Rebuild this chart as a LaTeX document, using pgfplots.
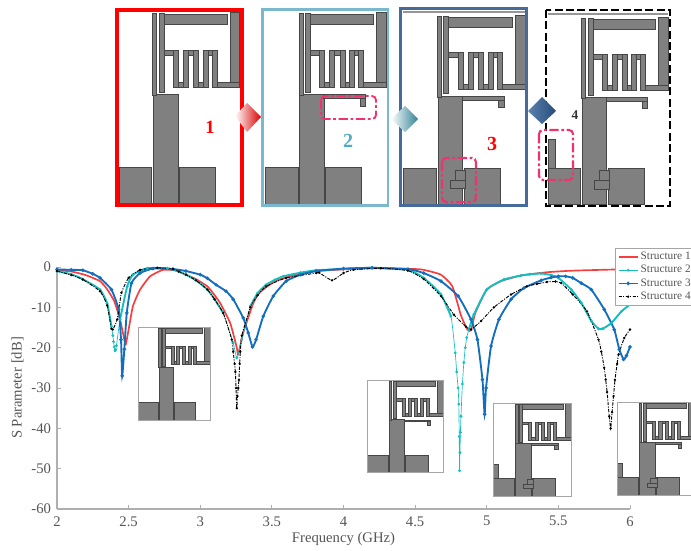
\documentclass[border=0pt]{standalone}
\usepackage{fontspec}
\setmainfont{Liberation Serif}
\usepackage{pgfplots}
\pgfplotsset{compat=1.18}
\usetikzlibrary{shadings}
\definecolor{antgray}{RGB}{128,128,128}
\definecolor{antline}{RGB}{70,70,70}
\definecolor{pinkd}{RGB}{240,50,110}
\definecolor{txtgray}{RGB}{85,85,85}
\definecolor{axgray}{RGB}{175,175,175}
\definecolor{cred}{RGB}{250,60,60}
\definecolor{ccyan}{RGB}{20,190,190}
\definecolor{cblue}{RGB}{20,110,190}

\newcommand{\antenna}[5]{% x0,y0,w,h,level
  \pgfmathsetmacro{\ax}{#3/361*0.75}
  \pgfmathsetmacro{\ay}{#4/577*0.75}
  \begin{scope}[shift={(#1,#2)},x=\ax pt,y=-\ay pt,fill=antgray,draw=antline,line width=0.35pt]
    \filldraw (0,468) rectangle (98,577);
    \filldraw (181,468) rectangle (288,577);
    \filldraw (103,247) rectangle (176,577);
    \filldraw (101,5) rectangle (113,250);
    \filldraw (120,5) rectangle (135,240);
    \filldraw (135,7) rectangle (323,37);
    \filldraw (333,0) rectangle (361,227);
    \filldraw (135,115) rectangle (178,130);
    \filldraw (193,115) rectangle (238,130);
    \filldraw (251,115) rectangle (293,130);
    \filldraw (163,210) rectangle (208,227);
    \filldraw (223,210) rectangle (266,227);
    \filldraw (278,210) rectangle (361,227);
    \filldraw (163,115) rectangle (178,227);
    \filldraw (193,115) rectangle (208,227);
    \filldraw (223,115) rectangle (238,227);
    \filldraw (251,115) rectangle (266,227);
    \filldraw (278,115) rectangle (293,227);
    \ifnum#5>1
      \filldraw (175,248) rectangle (300,260);
      \filldraw (283,260) rectangle (300,283);
    \fi
    \ifnum#5>2
      \filldraw (155,473) rectangle (185,505);
      \filldraw (140,505) rectangle (185,530);
    \fi
    \ifnum#5>3
      \filldraw (0,377) rectangle (23,468);
    \fi
  \end{scope}
}

\pgfplotstableread{
x y
2 -0.8
2.1 -1.1
2.2 -2
2.3 -3.5
2.35 -5.5
2.4 -8.5
2.44 -13
2.47 -18
2.48 -19.2
2.5 -15.5
2.53 -9.7
2.58 -5.6
2.65 -2.3
2.74 -0.7
2.82 -0.8
2.85 -1.2
2.9 -1.9
2.97 -3
3.05 -4.8
3.09 -6.5
3.14 -9
3.21 -14
3.255 -20
3.265 -21.7
3.3 -16.3
3.37 -9
3.41 -6.5
3.46 -5
3.52 -3.6
3.58 -2.8
3.7 -1.6
3.81 -1
4 -0.6
4.2 -0.3
4.5 -0.5
4.56 -0.7
4.68 -1.9
4.76 -4.8
4.82 -12
4.865 -15.5
4.89 -15.7
4.92 -11.4
5 -5.6
5.1 -3.5
5.24 -2.1
5.42 -1.3
5.6 -0.9
5.91 -0.6
6 -0.55
}\sOne
\pgfplotstableread{
x y
2 -1
2.1 -1.8
2.18 -3
2.3 -5.6
2.35 -9
2.38 -14.7
2.39 -17
2.395 -18.5
2.4 -19.8
2.405 -20.8
2.41 -20.5
2.415 -19.5
2.44 -13
2.49 -4.8
2.53 -1.9
2.63 -0.3
2.77 -0.3
2.85 -1.1
2.9 -1.9
2.97 -3.3
3.05 -5.6
3.1 -8
3.16 -11.4
3.23 -18.8
3.255 -22.5
3.29 -18
3.35 -9.7
3.4 -6.5
3.46 -4.4
3.52 -3.2
3.58 -2.3
3.7 -1.4
3.81 -0.8
4 -0.5
4.2 -0.2
4.45 -0.7
4.56 -2.7
4.68 -6.8
4.75 -12.2
4.78 -21.3
4.79 -26
4.8 -30
4.805 -34
4.808 -42
4.81 -50.5
4.813 -46
4.816 -41
4.82 -37
4.83 -29
4.84 -23.7
4.85 -20
4.86 -17.5
4.875 -15.5
4.91 -11.8
5 -5.6
5.12 -3.1
5.24 -2.1
5.3 -1.8
5.38 -1.6
5.45 -2
5.5 -2.7
5.59 -5.6
5.66 -8.9
5.73 -13.4
5.78 -15.3
5.81 -15.3
5.87 -13.9
5.94 -11
6 -9.3
}\sTwo
\pgfplotstableread{
x y
2 -0.6
2.1 -0.7
2.18 -0.8
2.25 -1.7
2.3 -2.7
2.38 -5.6
2.43 -10.5
2.447 -18
2.455 -27
2.47 -20.4
2.487 -11.4
2.52 -4
2.58 -1.5
2.67 -0.4
2.81 -0.5
2.9 -1
3 -1.9
3.05 -2.8
3.11 -4.4
3.18 -6
3.23 -8
3.3 -12.6
3.335 -16.3
3.365 -19.8
3.39 -18
3.44 -12.2
3.51 -7.2
3.6 -3.5
3.7 -1.9
3.81 -1
4 -0.4
4.2 -0.2
4.45 -0.5
4.56 -1.5
4.68 -3.5
4.8 -7.2
4.89 -13
4.935 -18
4.97 -27.9
4.985 -36.5
4.995 -30
5.03 -19.6
5.085 -13
5.17 -8
5.26 -5.2
5.38 -3.3
5.45 -2.6
5.5 -2.3
5.55 -2.3
5.6 -2.7
5.66 -4
5.73 -5.6
5.82 -10.5
5.89 -15.5
5.925 -20.4
5.955 -22.9
5.975 -22
6 -19.8
}\sThree
\pgfplotstableread{
x y
2 -1
2.1 -2
2.18 -3.1
2.3 -6
2.35 -9.5
2.38 -15.3
2.39 -15.5
2.42 -13
2.45 -6.4
2.5 -2.7
2.58 -0.7
2.7 -0.2
2.81 -0.5
2.85 -1.1
2.9 -1.9
2.97 -3.3
3.05 -5.6
3.1 -8
3.16 -11.4
3.22 -18
3.23 -21
3.24 -24
3.245 -26
3.25 -30
3.255 -35
3.26 -32
3.265 -30
3.27 -28
3.275 -24
3.28 -21
3.29 -17
3.35 -10
3.4 -7
3.46 -4.8
3.6 -2.7
3.81 -1.5
3.83 -1.4
3.92 -3.3
4 -1.5
4.07 -0.7
4.26 -0.3
4.45 -0.9
4.56 -3
4.68 -7.2
4.77 -11.8
4.855 -14.8
4.89 -15.5
4.96 -13.4
5.05 -10
5.17 -6.8
5.28 -4.8
5.35 -4.2
5.42 -3.7
5.48 -3.6
5.52 -4
5.6 -6.8
5.7 -11
5.78 -18
5.8 -21
5.82 -25
5.83 -27.9
5.84 -31
5.855 -37
5.865 -40
5.875 -36
5.885 -32
5.895 -28
5.91 -24
5.92 -21.7
5.96 -17.6
6 -15.5
}\sFour

\begin{document}
\begin{tikzpicture}[x=0.75pt,y=-0.75pt]
\useasboundingbox (0,0) rectangle (691,550);

\antenna{119}{12}{120.5}{192}{1}
\draw[red,line width=3pt] (117,10) rectangle (242,205);
\node[text=red,font=\bfseries\fontsize{14}{14}\selectfont] at (210,127) {1};

\antenna{265}{12}{121}{192}{2}
\draw[color={rgb,255:red,122;green,184;blue,208},line width=2pt] (262.5,9.5) rectangle (388,205.5);
\node[text={rgb,255:red,80;green,170;blue,195},font=\bfseries\fontsize{15}{15}\selectfont] at (348,141) {2};
\draw[pinkd,line width=1.4pt,rounded corners=3pt,dash pattern=on 7pt off 2pt on 2pt off 2pt] (321,96) rectangle (376,119);

\draw[color={rgb,255:red,150;green,150;blue,150},line width=1pt] (403,12) -- (525,12);
\antenna{403}{15}{122}{189}{3}
\draw[color={rgb,255:red,70;green,106;blue,154},line width=2pt] (400.5,8.5) rectangle (526.5,205.5);
\node[text=red,font=\bfseries\fontsize{15}{15}\selectfont] at (492,144) {3};
\draw[pinkd,line width=1.6pt,rounded corners=3pt,dash pattern=on 7pt off 2pt on 2pt off 2pt] (442,158) rectangle (476,202);

\draw[color={rgb,255:red,150;green,150;blue,150},line width=1pt] (548,14) -- (668,14);
\antenna{548}{17}{120}{187}{4}
\draw[black,line width=2pt,dash pattern=on 6pt off 2.5pt] (546,10) rectangle (670,206);
\node[text=black!80,font=\bfseries\fontsize{10}{10}\selectfont] at (575,115) {4};
\draw[pinkd,line width=1.6pt,rounded corners=3pt,dash pattern=on 7pt off 2pt on 2pt off 2pt] (539,130) rectangle (573,180);

\shade[left color=white,right color=red!85!black] (235,116) -- (247,103) -- (261,117) -- (247,132) -- cycle;
\shade[left color=white,right color={rgb,255:red,50;green,130;blue,150}] (391,119) -- (405,106) -- (418,119) -- (405,132) -- cycle;
\shade[left color={rgb,255:red,90;green,130;blue,175},right color={rgb,255:red,40;green,75;blue,120}] (528,111) -- (542,97) -- (556,111) -- (542,124) -- cycle;

\begin{axis}[
  at={(42.75pt,-381.75pt)},anchor=south west,
  scale only axis,width=429.75pt,height=181.5pt,
  xmin=2,xmax=6,ymin=-60,ymax=0,
  axis lines=left,
  axis line style={-,axgray,line width=0.9pt},
  tick style={axgray,line width=0.7pt},
  tick align=inside,
  major tick length=3pt,
  xtick={2,2.5,3,3.5,4,4.5,5,5.5,6},
  xticklabels={2,2.5,3,3.5,4,4.5,5,5.5,6},
  ytick={-60,-50,-40,-30,-20,-10,0},
  yticklabels={-60,-50,-40,-30,-20,-10,0},
  ticklabel style={text=txtgray,font=\fontsize{11}{11}\selectfont},
  xticklabel style={yshift=-2pt},
  yticklabel style={xshift=-1pt},
  xlabel={Frequency (GHz)},
  ylabel={S Parameter [dB]},
  label style={text=txtgray,font=\fontsize{11}{11}\selectfont},
  xlabel style={yshift=2pt},
  ylabel style={yshift=-1pt},
  clip=false,
  legend style={at={(0.974,1.079)},anchor=north west,draw=gray!70,fill=white,
    line width=0.7pt,font=\fontsize{8.5}{8.5}\selectfont,text=txtgray,
    inner xsep=1.5pt,inner ysep=1.5pt,row sep=0pt,
    nodes={inner sep=1.4pt}},
  legend cell align=left,
  legend image post style={xscale=0.85},
]
\addplot[cred,line width=1.25pt,smooth,tension=0.3] table[x=x,y=y] {\sOne};
\addlegendentry{Structure 1}
\addplot[ccyan,line width=0.5pt,smooth,tension=0.3,mark=*,mark size=0.8pt,mark options={solid,fill=ccyan,draw=ccyan}] table[x=x,y=y] {\sTwo};
\addlegendentry{Structure 2}
\addplot[ccyan,line width=1.4pt,smooth,tension=0.3,forget plot,unbounded coords=jump,restrict y to domain=-15.5:0] table[x=x,y=y] {\sTwo};
\addplot[cblue,line width=1.4pt,smooth,tension=0.3,mark=*,mark size=0.5pt,mark options={solid,fill=cblue}] table[x=x,y=y] {\sThree};
\addlegendentry{Structure 3}
\addplot[black,line width=0.7pt,smooth,tension=0.3,dash pattern=on 2.5pt off 1pt on 0.8pt off 1pt,mark=*,mark size=0.5pt,mark options={solid,fill=black}] table[x=x,y=y] {\sFour};
\addlegendentry{Structure 4}
\end{axis}

\antenna{138.5}{327.5}{71.5}{92.5}{1}
\draw[gray!70,line width=0.6pt] (138.5,327.5) rectangle (210,420);
\antenna{367.5}{380}{76}{92.5}{2}
\draw[gray!70,line width=0.6pt] (367.5,380) rectangle (443.5,472.5);
\antenna{493.5}{403.5}{77.5}{92.5}{4}
\draw[gray!70,line width=0.6pt] (493.5,403.5) rectangle (571,496);
\antenna{617.5}{402.5}{77}{92.5}{4}
\draw[gray!70,line width=0.6pt] (617.5,402.5) rectangle (694.5,495);
\end{tikzpicture}
\end{document}
